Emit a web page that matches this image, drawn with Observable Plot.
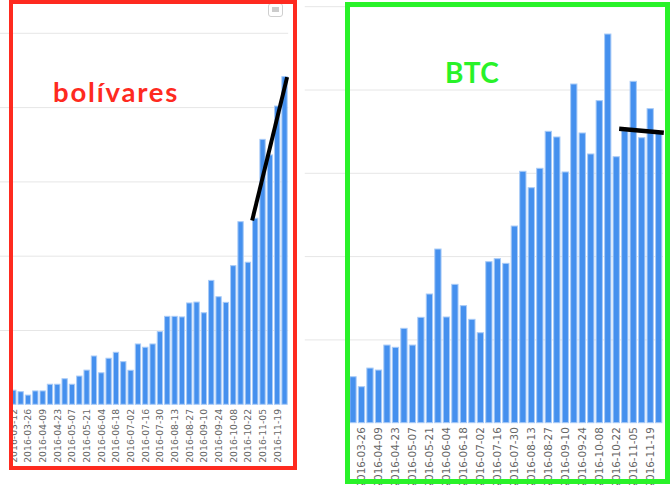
<!DOCTYPE html>
<html><head><meta charset="utf-8">
<script src="https://cdn.jsdelivr.net/npm/d3@7"></script>
<script src="https://cdn.jsdelivr.net/npm/@observablehq/plot@0.6"></script>
<style>
html,body{margin:0;padding:0;background:#fff;}
#wrap{position:relative;width:672px;height:485px;overflow:hidden;background:#fff;}
.chart{position:absolute;top:0;}
.box{position:absolute;box-sizing:border-box;}
.note{position:absolute;font-family:"Comic Sans MS","Lato",sans-serif;font-weight:bold;line-height:1;white-space:nowrap;}
</style></head><body>
<div id="wrap">
  <div id="left" class="chart" style="left:0"></div>
  <div id="right" class="chart" style="left:300px"></div>
  <div class="box" style="left:268px;top:3px;width:15px;height:14px;border:1px solid #cfcfcf;border-radius:3px;">
    <div style="position:absolute;left:3px;top:3px;width:7px;height:5px;background:#cccccc"></div>
  </div>
  <div class="box" style="left:9px;top:0;width:288px;height:470px;border:4.5px solid #fe2a1f"></div>
  <div class="box" style="left:345px;top:2px;width:325px;height:482px;border:5px solid #29f229"></div>
  <div class="note" style="left:53px;top:78px;font-size:27.5px;letter-spacing:1.8px;color:#fe2a1f">bolívares</div>
  <div class="note" style="left:445px;top:58px;font-size:28px;letter-spacing:0.5px;color:#29f229">BTC</div>
</div>
<script>
// ---- data ----
const bsWeeks = ["2016-03-12","2016-03-19","2016-03-26","2016-04-02","2016-04-09","2016-04-16","2016-04-23","2016-04-30",
  "2016-05-07","2016-05-14","2016-05-21","2016-05-28","2016-06-04","2016-06-11","2016-06-18","2016-06-25",
  "2016-07-02","2016-07-09","2016-07-16","2016-07-23","2016-07-30","2016-08-06","2016-08-13","2016-08-20",
  "2016-08-27","2016-09-03","2016-09-10","2016-09-17","2016-09-24","2016-10-01","2016-10-08","2016-10-15",
  "2016-10-22","2016-10-29","2016-11-05","2016-11-12","2016-11-19","2016-11-26"];
// weekly volume in bolívares (millions)
const bsValues = [95,85,62,90,90,135,135,172,135,190,230,325,212,310,350,287,229,406,384,406,489,592,592,588,
  682,688,616,834,724,686,933,1229,956,1252,1783,1678,2007,2205];
const bsTicks = ["2016-03-12","2016-03-26","2016-04-09","2016-04-23","2016-05-07","2016-05-21","2016-06-04","2016-06-18",
  "2016-07-02","2016-07-16","2016-07-30","2016-08-13","2016-08-27","2016-09-10","2016-09-24","2016-10-08",
  "2016-10-22","2016-11-05","2016-11-19"];
const bsGrid = [500,1000,1500,2000,2500];
const bsTrendDates = ["2016-10-25T14:00:00Z","2016-11-28T00:00:00Z"];
const bsTrendValues = [1240,2205];

const btcWeeks = bsWeeks.slice(1);
// weekly volume in BTC
const btcValues = [55.2,43.2,65.6,63.2,93.2,90.5,113.3,93.2,126.5,154.5,208.5,126.9,166.1,140.5,124.1,108,
  193.3,196.9,191.3,236.1,301.8,282.1,305.4,349.8,343,301,406.6,347.8,322.6,386.6,466.6,319.3,350.5,409.8,
  342.1,377,347.4];
const btcTicks = bsTicks.slice(1);
const btcGrid = [100,200,300,400,500];
const btcTrendDates = ["2016-10-24T00:00:00Z","2016-11-29T19:00:00Z"];
const btcTrendValues = [353.4,348.6];

// ---- helpers ----
const parse = s => new Date(s.length > 10 ? s : s + "T00:00:00Z");
const half = d => [d3.utcHour.offset(d, -84), d3.utcHour.offset(d, 84)];
const fmt = d3.utcFormat("%Y-%m-%d");
const barFill = "#4590ee", barStroke = "#a9cbf7";

function chart({weeks, values, ticks, grid, trendDates, trendValues, width, ml, mr, mt, mb, ymax, fontSize, gridInset, trendWidth, inset}) {
  const data = weeks.map((w, i) => {const d = parse(w); const [a, b] = half(d); return {d, a, b, v: values[i]};});
  const trend = trendDates.map((t, i) => ({d: parse(t), v: trendValues[i]}));
  return Plot.plot({
    width, height: 485,
    marginLeft: ml, marginRight: mr, marginTop: mt, marginBottom: mb,
    style: {fontFamily: "DejaVu Sans, Verdana, sans-serif", fontSize: fontSize + "px", color: "#666", background: "transparent", overflow: "visible"},
    x: {type: "utc", domain: [data[0].a, data[data.length - 1].b]},
    y: {domain: [0, ymax], axis: null},
    marks: [
      Plot.ruleY(grid, {stroke: "#e6e6e6", strokeWidth: 1, insetLeft: gridInset}),
      Plot.rectY(data, {x1: "a", x2: "b", y: "v", fill: barFill, stroke: barStroke, strokeWidth: 1, insetLeft: inset, insetRight: inset}),
      Plot.line(trend, {x: "d", y: "v", stroke: "#000", strokeWidth: trendWidth, strokeLinecap: "butt"}),
      Plot.axisX(ticks.map(parse), {tickFormat: fmt, tickRotate: -90, tickSize: 0, tickPadding: 4, label: null, fill: "#666"})
    ]
  });
}

document.getElementById("left").append(chart({
  weeks: bsWeeks, values: bsValues, ticks: bsTicks, grid: bsGrid, trendDates: bsTrendDates, trendValues: bsTrendValues,
  width: 300, ml: 9.67, mr: 11.8, mt: 32.8, mb: 80.7, ymax: 2500, fontSize: 9.3, gridInset: -10, trendWidth: 4, inset: 1
}));
document.getElementById("right").append(chart({
  weeks: btcWeeks, values: btcValues, ticks: btcTicks, grid: btcGrid, trendDates: btcTrendDates, trendValues: btcTrendValues,
  width: 372, ml: 48.75, mr: 9.05, mt: 6.2, mb: 62.3, ymax: 500, fontSize: 10.4, gridInset: -44, trendWidth: 4.5, inset: 1.1
}));
</script>
</body></html>
